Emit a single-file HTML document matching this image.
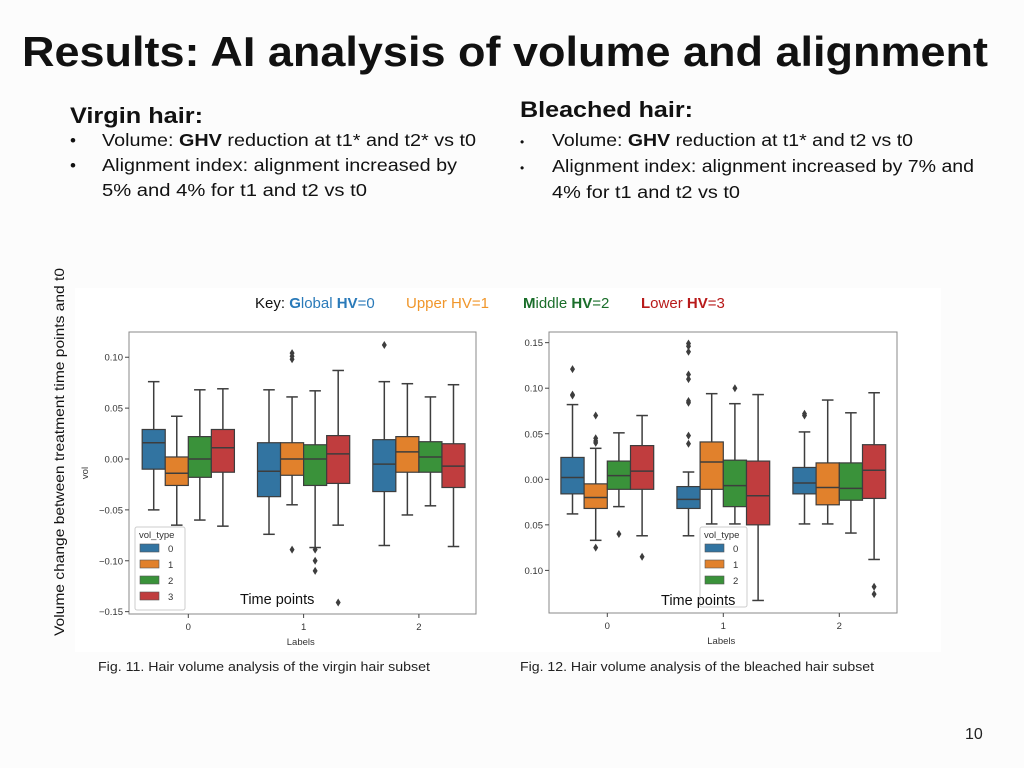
<!DOCTYPE html>
<html><head><meta charset="utf-8"><style>
body{margin:0;background:#fff;}
svg{display:block;font-family:"Liberation Sans",Arial,sans-serif;}
</style></head><body>
<svg id="page" width="1024" height="768" viewBox="0 0 1024 768" xmlns="http://www.w3.org/2000/svg">
<rect width="1024" height="768" fill="#fcfcfc"/>
<text x="22" y="66" font-size="42" font-weight="bold" fill="#111" textLength="966" lengthAdjust="spacingAndGlyphs">Results: AI analysis of volume and alignment</text>
<g fill="#111">
<text x="70" y="123" font-size="22" font-weight="bold" textLength="133" lengthAdjust="spacingAndGlyphs">Virgin hair:</text>
<text x="70" y="146" font-size="17">•</text><text x="102" y="146" font-size="17.5" textLength="374" lengthAdjust="spacingAndGlyphs">Volume: <tspan font-weight="bold">GHV</tspan> reduction at t1* and t2* vs t0</text>
<text x="70" y="171" font-size="17">•</text><text x="102" y="171" font-size="17.5" textLength="355" lengthAdjust="spacingAndGlyphs">Alignment index: alignment increased by</text>
<text x="102" y="196" font-size="17.5" textLength="265" lengthAdjust="spacingAndGlyphs">5% and 4% for t1 and t2  vs t0</text>
</g>
<g fill="#111">
<text x="520" y="117" font-size="22" font-weight="bold" textLength="173" lengthAdjust="spacingAndGlyphs">Bleached hair:</text>
<text x="520" y="146" font-size="12">•</text><text x="552" y="146" font-size="17.5" textLength="361" lengthAdjust="spacingAndGlyphs">Volume: <tspan font-weight="bold">GHV</tspan> reduction at t1* and t2 vs t0</text>
<text x="520" y="172" font-size="12">•</text><text x="552" y="172" font-size="17.5" textLength="422" lengthAdjust="spacingAndGlyphs">Alignment index: alignment increased by 7% and</text>
<text x="552" y="198" font-size="17.5" textLength="188" lengthAdjust="spacingAndGlyphs">4% for t1 and t2  vs t0</text>
</g>
<text transform="translate(64,452) rotate(-90)" text-anchor="middle" font-size="14" fill="#111" textLength="368" lengthAdjust="spacingAndGlyphs">Volume change between treatment time points and t0</text>
<rect x="75" y="288" width="866" height="364" fill="#ffffff"/>
<g font-size="15">
<text x="255" y="308" fill="#111">Key: <tspan fill="#2a7ab9" font-weight="bold">G</tspan><tspan fill="#2a7ab9">lobal </tspan><tspan fill="#2a7ab9" font-weight="bold">HV</tspan><tspan fill="#2a7ab9">=0</tspan></text>
<text x="406" y="308" fill="#f0962a">Upper HV=1</text>
<text x="523" y="308" fill="#1a6e2a"><tspan font-weight="bold">M</tspan>iddle <tspan font-weight="bold">HV</tspan>=2</text>
<text x="641" y="308" fill="#b81a1a"><tspan font-weight="bold">L</tspan>ower <tspan font-weight="bold">HV</tspan>=3</text>
</g>
<g id="leftChart"></g>
<g id="rightChart"></g>
<text x="98" y="671" font-size="12.5" fill="#222" textLength="332" lengthAdjust="spacingAndGlyphs">Fig. 11. Hair volume analysis of the virgin hair subset</text>
<text x="520" y="671" font-size="12.5" fill="#222" textLength="354" lengthAdjust="spacingAndGlyphs">Fig. 12. Hair volume analysis of the bleached hair subset</text>
<text x="965" y="739" font-size="16" fill="#222">10</text>
</svg>
<script>
// Categories and series
const categories = ["0","1","2"];
const volTypes = ["0","1","2","3"];
const colors = ["#3274a1","#e1812c","#3a923a","#c03d3e"];
// Left (virgin) — order: group0 types0-3, group1, group2
const leftHi  = [0.076,0.042,0.068,0.069, 0.068,0.061,0.067,0.087, 0.076,0.074,0.061,0.073];
const leftQ3  = [0.029,0.002,0.022,0.029, 0.016,0.016,0.014,0.023, 0.019,0.022,0.017,0.015];
const leftMed = [0.016,-0.014,0.000,0.011, -0.012,0.000,0.000,0.005, -0.005,0.007,0.002,-0.007];
const leftQ1  = [-0.010,-0.026,-0.018,-0.013, -0.037,-0.016,-0.026,-0.024, -0.032,-0.013,-0.013,-0.028];
const leftLo  = [-0.050,-0.065,-0.060,-0.066, -0.074,-0.045,-0.087,-0.065, -0.085,-0.055,-0.046,-0.086];
const leftOutGroup = [0,1,1,1,1,1,1,1,1,2];
const leftOutType  = [1,1,1,1,1,2,2,2,3,0];
const leftOutVal   = [-0.130,0.104,0.101,0.098,-0.089,-0.089,-0.100,-0.110,-0.141,0.112];
const leftTicks = [0.10,0.05,0.00,-0.05,-0.10,-0.15];
const leftTickLabels = ["0.10","0.05","0.00","\u22120.05","\u22120.10","\u22120.15"];
// Right (bleached)
const rightHi  = [0.082,0.034,0.051,0.070, 0.008,0.094,0.083,0.093, 0.052,0.087,0.073,0.095];
const rightQ3  = [0.024,-0.005,0.020,0.037, -0.008,0.041,0.021,0.020, 0.013,0.018,0.018,0.038];
const rightMed = [0.002,-0.020,0.004,0.009, -0.022,0.019,-0.007,-0.018, -0.004,-0.009,-0.010,0.010];
const rightQ1  = [-0.016,-0.032,-0.011,-0.011, -0.032,-0.011,-0.030,-0.050, -0.016,-0.028,-0.023,-0.021];
const rightLo  = [-0.038,-0.067,-0.030,-0.062, -0.062,-0.049,-0.049,-0.133, -0.049,-0.049,-0.059,-0.088];
const rightOutGroup = [0,0,0,0,0,0,0,0,0,0, 1,1,1,1,1,1,1,1,1,1, 2,2,2,2];
const rightOutType  = [0,0,0,1,1,1,1,1,2,3, 0,0,0,0,0,0,0,0,0,2, 0,0,3,3];
const rightOutVal   = [0.121,0.093,0.092,0.070,0.045,0.042,0.040,-0.075,-0.060,-0.085, 0.149,0.146,0.140,0.115,0.110,0.086,0.084,0.048,0.039,0.100, 0.072,0.070,-0.118,-0.126];
const rightTicks = [0.15,0.10,0.05,0.00,-0.05,-0.10];
const rightTickLabels = ["0.15","0.10","0.05","0.00","0.05","0.10"];

const NS = "http://www.w3.org/2000/svg";
function mk(parent, tag, attrs){const e=document.createElementNS(NS,tag);for(const k in attrs)e.setAttribute(k,attrs[k]);parent.appendChild(e);return e;}

function drawChart(g, cfg){
  const y = v => cfg.y0 - v*cfg.ppu;
  const x = i => cfg.cx0 + i*cfg.step;
  const bw = cfg.step*0.8/4;
  let e = mk(g,'rect',{x:cfg.left,y:cfg.top,width:cfg.right-cfg.left,height:cfg.bottom-cfg.top,fill:'#fff',stroke:'#888','stroke-width':1});
  
  
  cfg.ticks.forEach((t,i)=>{
    const yy=y(t);
    let l=mk(g,'line',{x1:cfg.left-4,x2:cfg.left,y1:yy,y2:yy,stroke:'#444'});
    
    
    let tx=mk(g,'text',{x:cfg.left-6,y:yy+3.5,'text-anchor':'end','font-size':9.5,fill:'#333'});
    tx.textContent=cfg.tickLabels[i];
    
    
  });
  categories.forEach((c,i)=>{
    const xx=x(i);
    let l=mk(g,'line',{x1:xx,x2:xx,y1:cfg.bottom,y2:cfg.bottom+4,stroke:'#444'});
    
    
    let tx=mk(g,'text',{x:xx,y:cfg.bottom+16,'text-anchor':'middle','font-size':9.5,fill:'#333'});
    tx.textContent=c;
    
    
  });
  for(let gi=0;gi<3;gi++){
    for(let t=0;t<4;t++){
      const k=gi*4+t;
      const cx=x(gi)-2*bw+bw*(t+0.5);
      const bg=mk(g,'g',{});
      
      
      mk(bg,'line',{x1:cx,x2:cx,y1:y(cfg.hi[k]),y2:y(cfg.q3[k]),stroke:'#3d3d3d','stroke-width':1.5});
      mk(bg,'line',{x1:cx,x2:cx,y1:y(cfg.q1[k]),y2:y(cfg.lo[k]),stroke:'#3d3d3d','stroke-width':1.5});
      mk(bg,'line',{x1:cx-bw/4,x2:cx+bw/4,y1:y(cfg.hi[k]),y2:y(cfg.hi[k]),stroke:'#3d3d3d','stroke-width':1.5});
      mk(bg,'line',{x1:cx-bw/4,x2:cx+bw/4,y1:y(cfg.lo[k]),y2:y(cfg.lo[k]),stroke:'#3d3d3d','stroke-width':1.5});
      mk(bg,'rect',{x:cx-bw/2,y:y(cfg.q3[k]),width:bw,height:y(cfg.q1[k])-y(cfg.q3[k]),fill:colors[t],stroke:'#3d3d3d','stroke-width':1.2});
      mk(bg,'line',{x1:cx-bw/2,x2:cx+bw/2,y1:y(cfg.med[k]),y2:y(cfg.med[k]),stroke:'#3d3d3d','stroke-width':1.5});
    }
  }
  cfg.og.forEach((gi,j)=>{
    const cx=x(gi)-2*bw+bw*(cfg.ot[j]+0.5), yy=y(cfg.ov[j]);
    let d=mk(g,'path',{d:`M${cx} ${yy-4}L${cx+2.5} ${yy}L${cx} ${yy+4}L${cx-2.5} ${yy}Z`,fill:'#3d3d3d'});
    
    
  });
  // legend
  const lg=mk(g,'g',{});
  
  
  mk(lg,'rect',{x:cfg.lx,y:cfg.ly,width:cfg.lw,height:cfg.lh,fill:'#fff',stroke:'#ccc',rx:2});
  let lt=mk(lg,'text',{x:cfg.lx+4,y:cfg.ly+11,'font-size':9.5,fill:'#333'});lt.textContent='vol_type';
  for(let t=0;t<cfg.nLeg;t++){
    mk(lg,'rect',{x:cfg.lx+5,y:cfg.ly+17+t*16,width:19,height:8,fill:colors[t],stroke:'#555','stroke-width':0.6});
    let tt=mk(lg,'text',{x:cfg.lx+33,y:cfg.ly+25+t*16,'font-size':9.5,fill:'#333'});tt.textContent=volTypes[t];
  }
  let xl=mk(g,'text',{x:(cfg.left+cfg.right)/2-(cfg.right-cfg.left)*0.005,y:cfg.bottom+31,'text-anchor':'middle','font-size':9.5,fill:'#333'});
  xl.textContent='Labels';
  
  
  if(cfg.vol){
    let yl=mk(g,'text',{transform:`translate(88,${(cfg.top+cfg.bottom)/2}) rotate(-90)`,'text-anchor':'middle','font-size':9.5,fill:'#333'});
    yl.textContent='vol';
    
    
  }
  let tp=mk(g,'text',{x:cfg.tpx,y:cfg.tpy,'font-size':14.5,fill:'#111'});
  tp.textContent='Time points';
  
  
}

drawChart(document.getElementById('leftChart'),{
  left:129,right:476,top:332,bottom:614,y0:459,ppu:1017.6,cx0:188.3,step:115.3,
  hi:leftHi,q3:leftQ3,med:leftMed,q1:leftQ1,lo:leftLo,og:leftOutGroup,ot:leftOutType,ov:leftOutVal,
  ticks:leftTicks,tickLabels:leftTickLabels,lx:135,ly:527,lw:50,lh:83,nLeg:4,vol:true,tpx:240,tpy:604
});
drawChart(document.getElementById('rightChart'),{
  left:549,right:897,top:332,bottom:613,y0:479.3,ppu:911,cx0:607.3,step:116,
  hi:rightHi,q3:rightQ3,med:rightMed,q1:rightQ1,lo:rightLo,og:rightOutGroup,ot:rightOutType,ov:rightOutVal,
  ticks:rightTicks,tickLabels:rightTickLabels,lx:700,ly:527,lw:47,lh:80,nLeg:3,vol:false,tpx:661,tpy:605
});
</script>
</body></html>
